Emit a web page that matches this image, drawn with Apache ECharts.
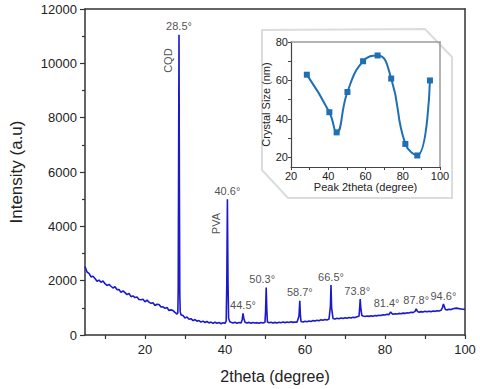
<!DOCTYPE html>
<html><head><meta charset="utf-8">
<script src="https://cdn.jsdelivr.net/npm/echarts@6/dist/echarts.min.js"></script>
<style>html,body{margin:0;padding:0;background:#fff}#c{width:480px;height:389px}</style>
</head><body><div id="c"></div>
<script>
// ---- Main XRD pattern ----
const twoTheta = [
 5.0,5.5,6.0,6.5,7.0,7.5,8.0,8.5,9.0,9.5,10.0,10.5,11.0,11.5,12.0,12.5,13.0,13.5,14.0,14.5,
 15.0,15.5,16.0,16.5,17.0,17.5,18.0,18.5,19.0,19.5,20.0,20.5,21.0,21.5,22.0,22.5,23.0,23.5,24.0,24.5,
 25.0,25.5,26.0,26.5,27.0,27.5,28.0,28.2,28.3,28.4,28.5,28.6,28.7,28.8,29.0,29.5,30.0,30.5,31.0,31.5,
 32.0,32.5,33.0,33.5,34.0,34.5,35.0,35.5,36.0,36.5,37.0,37.5,38.0,38.5,39.0,39.5,40.0,40.3,40.45,40.6,
 40.75,40.9,41.2,41.5,42.0,42.5,43.0,43.5,44.0,44.3,44.5,44.7,45.0,45.5,46.0,46.5,47.0,47.5,48.0,48.5,
 49.0,49.5,50.0,50.15,50.3,50.45,50.6,51.0,51.5,52.0,52.5,53.0,53.5,54.0,54.5,55.0,55.5,56.0,56.5,57.0,
 57.5,58.0,58.5,58.7,58.85,59.0,59.5,60.0,60.5,61.0,61.5,62.0,62.5,63.0,63.5,64.0,64.5,65.0,65.5,66.0,
 66.35,66.5,66.65,67.0,67.5,68.0,68.5,69.0,69.5,70.0,70.5,71.0,71.5,72.0,72.5,73.0,73.5,73.65,73.8,73.95,
 74.2,74.5,75.0,75.5,76.0,76.5,77.0,77.5,78.0,78.5,79.0,79.5,80.0,80.5,81.0,81.4,81.8,82.0,82.5,83.0,
 83.5,84.0,84.5,85.0,85.5,86.0,86.5,87.0,87.5,87.8,88.1,88.5,89.0,89.5,90.0,90.5,91.0,91.5,92.0,92.5,
 93.0,93.5,94.0,94.4,94.6,94.8,95.1,95.5,96.0,96.5,97.0,97.5,98.0,98.5,99.0,99.5,100.0
];
const intensity = [
 2520,2320,2270,2140,2160,2080,1980,2020,1940,1990,1890,1825,1860,1795,1730,1775,1670,1675,1570,1625,
 1560,1485,1530,1410,1440,1380,1400,1305,1300,1315,1220,1285,1210,1165,1190,1085,1130,1125,1030,1040,
 980,1010,900,925,900,830,770,820,1600,6200,11050,5400,1500,860,740,720,630,660,580,600,
 530,570,510,530,475,510,460,497,445,475,430,470,430,462,415,455,430,520,1900,5000,
 2000,620,490,470,440,470,435,460,440,560,800,620,470,440,465,430,460,440,455,430,
 460,445,470,900,1750,950,480,450,470,440,465,445,470,450,475,455,480,460,485,465,
 480,470,700,1260,720,500,480,505,485,515,500,530,515,545,525,560,545,570,555,585,
 1050,1840,1000,610,590,615,595,625,605,635,615,645,625,655,640,670,690,950,1320,1000,
 720,700,680,700,685,705,690,715,705,730,720,745,735,760,750,850,780,765,785,770,
 795,785,805,795,820,810,835,825,870,960,870,840,860,845,870,855,875,860,885,870,
 895,885,910,1020,1140,1060,940,925,945,935,965,980,990,970,960,950,945
];
// peak annotations
const peakPositions = [28.5, 40.6, 44.5, 50.3, 58.7, 66.5, 73.8, 81.4, 87.8, 94.6];
const peakHeights   = [11050, 5000, 800, 1750, 1260, 1840, 1320, 850, 960, 1140];
const peakLabels    = ['28.5°','40.6°','44.5°','50.3°','58.7°','66.5°','73.8°','81.4°','87.8°','94.6°'];
const phaseNames     = ['CQD', 'PVA'];
const phasePositions = [28.5, 40.6];
const phaseHeights   = [10100, 4100];
// main axis ticks
const xLabelValues = [20, 40, 60, 80, 100];
const xTickValues  = [10, 20, 30, 40, 50, 60, 70, 80, 90, 100];

// ---- Inset: crystal size ----
const insetAngle  = [28.5, 40.6, 44.5, 50.3, 58.7, 66.5, 73.8, 81.4, 87.8, 94.6];
const crystalSize = [63, 43.5, 33, 54, 70, 73, 61, 27, 21, 60];
const insetYLabels = [20, 40, 60, 80];
const insetYTicks  = [20, 30, 40, 50, 60, 70, 80];
const insetXLabels = [20, 40, 60, 80, 100];
const insetXTicks  = [20, 30, 40, 50, 60, 70, 80, 90, 100];

const font = 'Arial, "Liberation Sans", sans-serif';
const txt = '#222';
const chart = echarts.init(document.getElementById('c'), null, {renderer: 'svg', width: 480, height: 389});

// small horizontal nudges of individual peak labels (style only)
const labelNudge = {'50.3°': -4, '73.8°': -3, '81.4°': -4};
const mainData = twoTheta.map((t, i) => [t, intensity[i]]);
const peakData = peakPositions.map((p, i) => ({value: [p, peakHeights[i]], name: peakLabels[i],
  label: {offset: [labelNudge[peakLabels[i]] || 0, 0]}}));
const phaseData = phasePositions.map((p, i) => ({value: [p, phaseHeights[i]], name: phaseNames[i]}));
const insetData = insetAngle.map((a, i) => [a, crystalSize[i]]);

const frameAxis = (grid, pos, color, min, max) => ({
  gridIndex: grid, type: 'value', position: pos, min: min, max: max,
  axisLine: {onZero: false, lineStyle: {color: color, width: 1.5}},
  axisTick: {show: false}, axisLabel: {show: false}, splitLine: {show: false}, z: grid === 1 ? 10 : 0
});

chart.setOption({
  animation: false,
  textStyle: {fontFamily: font},
  grid: [
    {left: 79, right: 15, top: 9, bottom: 54},
    {left: 291, right: 40, top: 42, bottom: 222}
  ],
  xAxis: [
    {gridIndex: 0, type: 'value', position: 'bottom', min: 5, max: 100,
     axisLine: {onZero: false, lineStyle: {color: '#333', width: 1.5}},
     axisTick: {customValues: xTickValues, length: 4, lineStyle: {color: '#333', width: 1.2}},
     axisLabel: {customValues: xLabelValues, fontSize: 13, color: txt, margin: 8},
     splitLine: {show: false},
     name: '2theta (degree)', nameLocation: 'middle', nameGap: 33,
     nameTextStyle: {fontSize: 16, color: txt}},
    frameAxis(0, 'top', '#333', 5, 100),
    {gridIndex: 1, type: 'value', position: 'bottom', min: 20, max: 100, z: 10,
     axisLine: {onZero: false, lineStyle: {color: '#444', width: 1.2}},
     axisTick: {customValues: insetXTicks, length: 3, lineStyle: {color: '#444'}},
     axisLabel: {customValues: insetXLabels, fontSize: 11, color: txt, margin: 3},
     splitLine: {show: false},
     name: 'Peak 2theta (degree)', nameLocation: 'middle', nameGap: 13,
     nameTextStyle: {fontSize: 11, color: txt}},
    frameAxis(1, 'top', '#9a9a9a', 20, 100)
  ],
  yAxis: [
    {gridIndex: 0, type: 'value', position: 'left', min: 0, max: 12000, interval: 2000,
     axisLine: {show: true, onZero: false, lineStyle: {color: '#333', width: 1.5}},
     axisTick: {show: true, length: 5, lineStyle: {color: '#333', width: 1.2}},
     minorTick: {show: true, splitNumber: 2, length: 3, lineStyle: {color: '#333', width: 1.2}},
     axisLabel: {fontSize: 13, color: txt, margin: 8, formatter: v => String(v)},
     splitLine: {show: false},
     name: 'Intensity (a.u)', nameLocation: 'middle', nameGap: 60,
     nameTextStyle: {fontSize: 17, color: txt}},
    frameAxis(0, 'right', '#333', 0, 12000),
    {gridIndex: 1, type: 'value', position: 'left', min: 15, max: 80, z: 10,
     axisLine: {show: true, onZero: false, lineStyle: {color: '#444', width: 1.2}},
     axisTick: {show: true, customValues: insetYTicks, length: 3, lineStyle: {color: '#444'}},
     axisLabel: {customValues: insetYLabels, fontSize: 11, color: txt, margin: 3},
     splitLine: {show: false},
     name: 'Crystal Size (nm)', nameLocation: 'middle', nameGap: 14,
     nameTextStyle: {fontSize: 11, color: txt}},
    frameAxis(1, 'right', '#9a9a9a', 15, 80)
  ],
  graphic: [{
    type: 'polygon', z: 5,
    shape: {points: [[262, 30], [425, 29], [452, 57], [452, 198], [288, 198], [262, 170]]},
    style: {fill: '#ffffff', stroke: '#dcdcdc', lineWidth: 2}
  }],
  series: [
    {type: 'line', xAxisIndex: 0, yAxisIndex: 0, data: mainData, showSymbol: false, z: 2,
     lineStyle: {color: '#1a1acc', width: 1.6}},
    {type: 'scatter', xAxisIndex: 0, yAxisIndex: 0, data: peakData, symbolSize: 0, z: 3,
     label: {show: true, position: 'top', distance: 3, formatter: p => p.name, fontSize: 11,
             color: txt, textBorderWidth: 0}},
    {type: 'scatter', xAxisIndex: 0, yAxisIndex: 0, data: phaseData, symbolSize: 0, z: 3,
     label: {show: true, position: 'inside', rotate: 90, offset: [0, -11], formatter: p => p.name, fontSize: 11,
             color: txt, textBorderWidth: 0}},
    {type: 'line', xAxisIndex: 2, yAxisIndex: 2, data: insetData, smooth: 0.5, z: 10,
     symbol: 'rect', symbolSize: 6, showSymbol: true,
     lineStyle: {color: '#1f6fb4', width: 2}, itemStyle: {color: '#1f6fb4'}}
  ]
});
</script></body></html>
